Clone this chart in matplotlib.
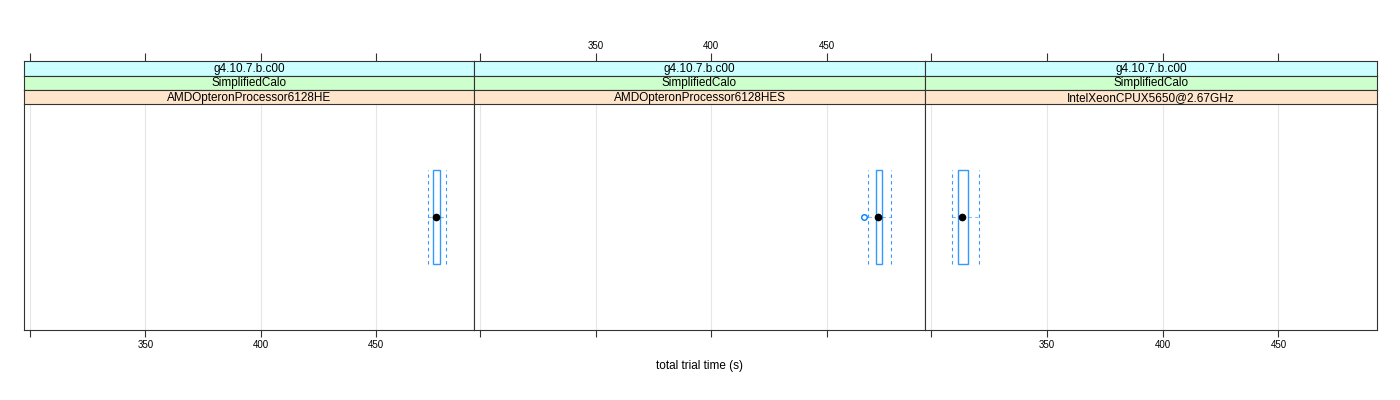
import matplotlib
matplotlib.use('Agg')
import matplotlib.pyplot as plt
from matplotlib.patches import Rectangle

plt.rcParams['font.family'] = ['Liberation Sans', 'DejaVu Sans']

# panel labels
versions = ['g4.10.7.b.c00', 'g4.10.7.b.c00', 'g4.10.7.b.c00']
tests = ['SimplifiedCalo', 'SimplifiedCalo', 'SimplifiedCalo']
procs = ['AMDOpteronProcessor6128HE', 'AMDOpteronProcessor6128HES', 'IntelXeonCPUX5650@2.67GHz']

# box stats (seconds)
whisk_lo = [472.5, 468.0, 309.1]
q1 = [474.6, 471.2, 311.7]
med = [476.2, 472.3, 313.5]
q3 = [477.8, 474.0, 315.8]
whisk_hi = [480.3, 477.8, 320.8]
outliers = [[], [466.2], []]

ticks = [300, 350, 400, 450]
tick_labels = ['', '350', '400', '450']
xlim = (297.3, 492.6)

W, H = 1400, 400
fig = plt.figure(figsize=(14, 4), dpi=100)

panel_x = [24, 474, 925, 1377]
ptop, pbot = 104, 330
strip_h = [(61, 75.5), (75.5, 90), (90, 104)]
strip_cols = ['#ccffff', '#ccffcc', '#ffe5cc']
blue = '#0080ff'
lc = '#333333'

for i in range(3):
    x0, x1 = panel_x[i], panel_x[i+1]
    ax = fig.add_axes([x0/W, 1-pbot/H, (x1-x0)/W, (pbot-ptop)/H])
    ax.set_xlim(*xlim)
    ax.set_ylim(0.4, 1.6)
    for t in ticks:
        ax.axvline(t, color='#e6e6e6', lw=0.8, zorder=0)
    # box
    ax.add_patch(Rectangle((q1[i], 0.75), q3[i]-q1[i], 0.5, fill=False,
                           ec=blue, lw=1.0, alpha=0.8, zorder=2))
    # whiskers
    ax.plot([whisk_lo[i], q1[i]], [1, 1], color=blue, lw=0.8, ls=(0, (3, 3)), alpha=0.5)
    ax.plot([q3[i], whisk_hi[i]], [1, 1], color=blue, lw=0.8, ls=(0, (3, 3)), alpha=0.5)
    for w in (whisk_lo[i], whisk_hi[i]):
        ax.plot([w, w], [0.75, 1.25], color=blue, lw=0.8, ls=(0, (3, 3)), alpha=0.8)
    ax.plot([med[i]], [1], 'o', color='black', ms=4.5, zorder=3)
    for o in outliers[i]:
        ax.plot([o], [1], 'o', mfc='none', mec=blue, ms=4, mew=1.0)
    ax.set_yticks([])
    ax.set_xticks(ticks)
    ax.tick_params(axis='x', direction='out', length=5, width=0.8, color=lc,
                   labelsize=7, top=True, pad=2.5)
    show_bottom = i != 1
    ax.set_xticklabels(tick_labels if show_bottom else [''] * 4)
    for s in ax.spines.values():
        s.set_color(lc)
        s.set_linewidth(0.8)
    ax.spines['top'].set_visible(False)

    # strips (with top ticks above them)
    for j, (lab, col) in enumerate(zip([versions[i], tests[i], procs[i]], strip_cols)):
        y0, y1 = strip_h[j]
        sax = fig.add_axes([x0/W, 1-y1/H, (x1-x0)/W, (y1-y0)/H])
        sax.set_facecolor(col)
        sax.set_xticks([])
        sax.set_yticks([])
        for s in sax.spines.values():
            s.set_color(lc)
            s.set_linewidth(0.8)
        sax.text(0.5, 0.45, lab, ha='center', va='center', fontsize=8.5,
                 transform=sax.transAxes)
        if j == 0:
            sax.set_xlim(*xlim)
            sax.set_xticks(ticks)
            sax.tick_params(axis='x', bottom=False, top=True, labeltop=(i == 1),
                            labelbottom=False, direction='out', length=6,
                            width=0.8, color=lc, labelsize=7, pad=1.5)
            if i == 1:
                sax.set_xticklabels(tick_labels)

fig.text(700/W, 1-366/H, 'total trial time (s)', ha='center', va='center', fontsize=8.5)

plt.savefig('out.png', dpi=100)
